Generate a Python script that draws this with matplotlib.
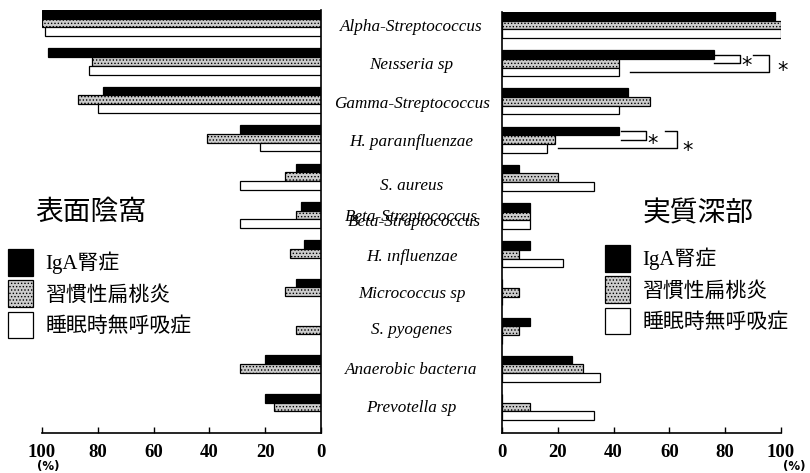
import numpy as np
import matplotlib.pyplot as plt
from matplotlib.patches import Patch
from matplotlib.transforms import blended_transform_factory, offset_copy

plt.rcParams['hatch.linewidth'] = 0.6

categories = ['Alpha-Streptococcus', 'Neısseria sp', 'Gamma-Streptococcus',
              'H. paraınfluenzae', 'S. aureus', 'Beta-Streptococcus',
              'H. ınfluenzae', 'Micrococcus sp', 'S. pyogenes',
              'Anaerobic bacterıa', 'Prevotella sp']
groups = ['IgA腎症', '習慣性扁桃炎', '睡眠時無呼吸症']

# 表面陰窩 (%)
iga_surface = [100, 98, 78, 29, 9, 7, 6, 9, 0, 20, 20]
tonsil_surface = [100, 82, 87, 41, 13, 9, 11, 13, 9, 29, 17]
sas_surface = [99, 83, 80, 22, 29, 29, 0, 0, 0, 0, 0]

# 実質深部 (%)
iga_deep = [98, 76, 45, 42, 6, 10, 10, 0, 10, 25, 0]
tonsil_deep = [100, 42, 53, 19, 20, 10, 6, 6, 6, 29, 10]
sas_deep = [100, 42, 42, 16, 33, 10, 22, 0, 0, 35, 33]

xticks = [0, 20, 40, 60, 80, 100]

W, H = 810, 473
fig = plt.figure(figsize=(W / 100, H / 100), dpi=100)


def box(x0, y0, x1, y1):
    return [x0 / W, 1 - y1 / H, (x1 - x0) / W, (y1 - y0) / H]


axL = fig.add_axes(box(42, 10, 321, 433))
axR = fig.add_axes(box(502, 12, 781, 433))

y = np.arange(len(categories))
h = 0.227
styles = [dict(color='black', edgecolor='black'),
          dict(color='#cccccc', edgecolor='black', hatch='.....'),
          dict(color='white', edgecolor='black')]
tick_font = dict(family='Liberation Serif', weight='bold', size=13.5)
cjk = ['Liberation Serif', 'Noto Sans CJK JP']

for ax, series in [(axL, [iga_surface, tonsil_surface, sas_surface]),
                   (axR, [iga_deep, tonsil_deep, sas_deep])]:
    for k, (vals, st) in enumerate(zip(series, styles)):
        ax.barh(y + (k - 1) * h, vals, height=h, linewidth=0.9, **st)
    ax.set_ylim(10.68, -0.34)
    ax.set_xlim(0, 100)
    ax.set_yticks([])
    ax.set_xticks(xticks)
    ax.set_xticklabels([str(t) for t in xticks], fontdict=tick_font)
    ax.tick_params(axis='x', direction='in', length=4, width=1, pad=8)
    ax.spines['top'].set_visible(False)
    for s in ax.spines.values():
        s.set_linewidth(1.2)

axL.invert_xaxis()
axL.spines['left'].set_visible(False)
axR.spines['right'].set_visible(False)

# 有意差の括弧
def bracket(ax, x0, x1, ya, yb, xb0=None):
    xb0 = x0 if xb0 is None else xb0
    ax.plot([x0, x1, x1, xb0], [ya, ya, yb, yb], color='black', lw=1,
            clip_on=False)


star = dict(fontsize=15, ha='center', va='center', family='DejaVu Sans',
            clip_on=False)
bracket(axR, 76, 85.3, 1 - h, 1)
axR.text(87.8, 1 - h / 2 + 0.2, '*', **star)
bracket(axR, 90, 95.8, 1 - h, 1 + h, xb0=46)
axR.text(100.6, 1.2, '*', **star)
bracket(axR, 42.5, 51.6, 3 - h, 3)
axR.text(53.8, 3 - h / 2 + 0.22, '*', **star)
bracket(axR, 58.4, 62.6, 3 - h, 3 + h, xb0=20)
axR.text(66.5, 3.3, '*', **star)

# 菌名ラベル
trans = blended_transform_factory(fig.transFigure, axL.transData)
nudge = [0.1, 0.1, 0.1, 0.1, 0.25, 0.05, 0.1, 0.05, 0.0, 0.03, 0.03]
label_font = dict(family='Liberation Serif', style='italic', fontsize=12.3)
for i, (name, dy) in enumerate(zip(categories, nudge)):
    fig.text(411.5 / W, i + dy, name, transform=trans, ha='center',
             va='center', **label_font)
ghost = offset_copy(trans, fig=fig, x=3, y=-5, units='dots')
fig.text(411.5 / W, 5 + 0.05, categories[5], transform=ghost, ha='center',
         va='center', **label_font)

# タイトルと凡例
fig.text(91 / W, 1 - 212 / H, '表面陰窩', ha='center', va='center',
         family='Noto Sans CJK JP', fontsize=20)
fig.text(698 / W, 1 - 213 / H, '実質深部', ha='center', va='center',
         family='Noto Sans CJK JP', fontsize=20)

handles = [Patch(facecolor=st['color'], edgecolor='black',
                 hatch=st.get('hatch'), linewidth=0.9) for st in styles]
for x0, y0 in [(8, 249), (605, 245)]:
    fig.legend(handles, groups, loc='upper left',
               bbox_to_anchor=(x0 / W, 1 - y0 / H), frameon=False,
               prop=dict(family=cjk, size=15), handlelength=1.2,
               handleheight=1.6, labelspacing=0.22, handletextpad=0.6,
               borderpad=0, borderaxespad=0)

fig.text(48 / W, 1 - 466 / H, '(%)', ha='center', va='center',
         family='DejaVu Sans', fontsize=8.5, weight='bold')
fig.text(794 / W, 1 - 466 / H, '(%)', ha='center', va='center',
         family='DejaVu Sans', fontsize=8.5, weight='bold')

fig.savefig('out.png', dpi=100)
